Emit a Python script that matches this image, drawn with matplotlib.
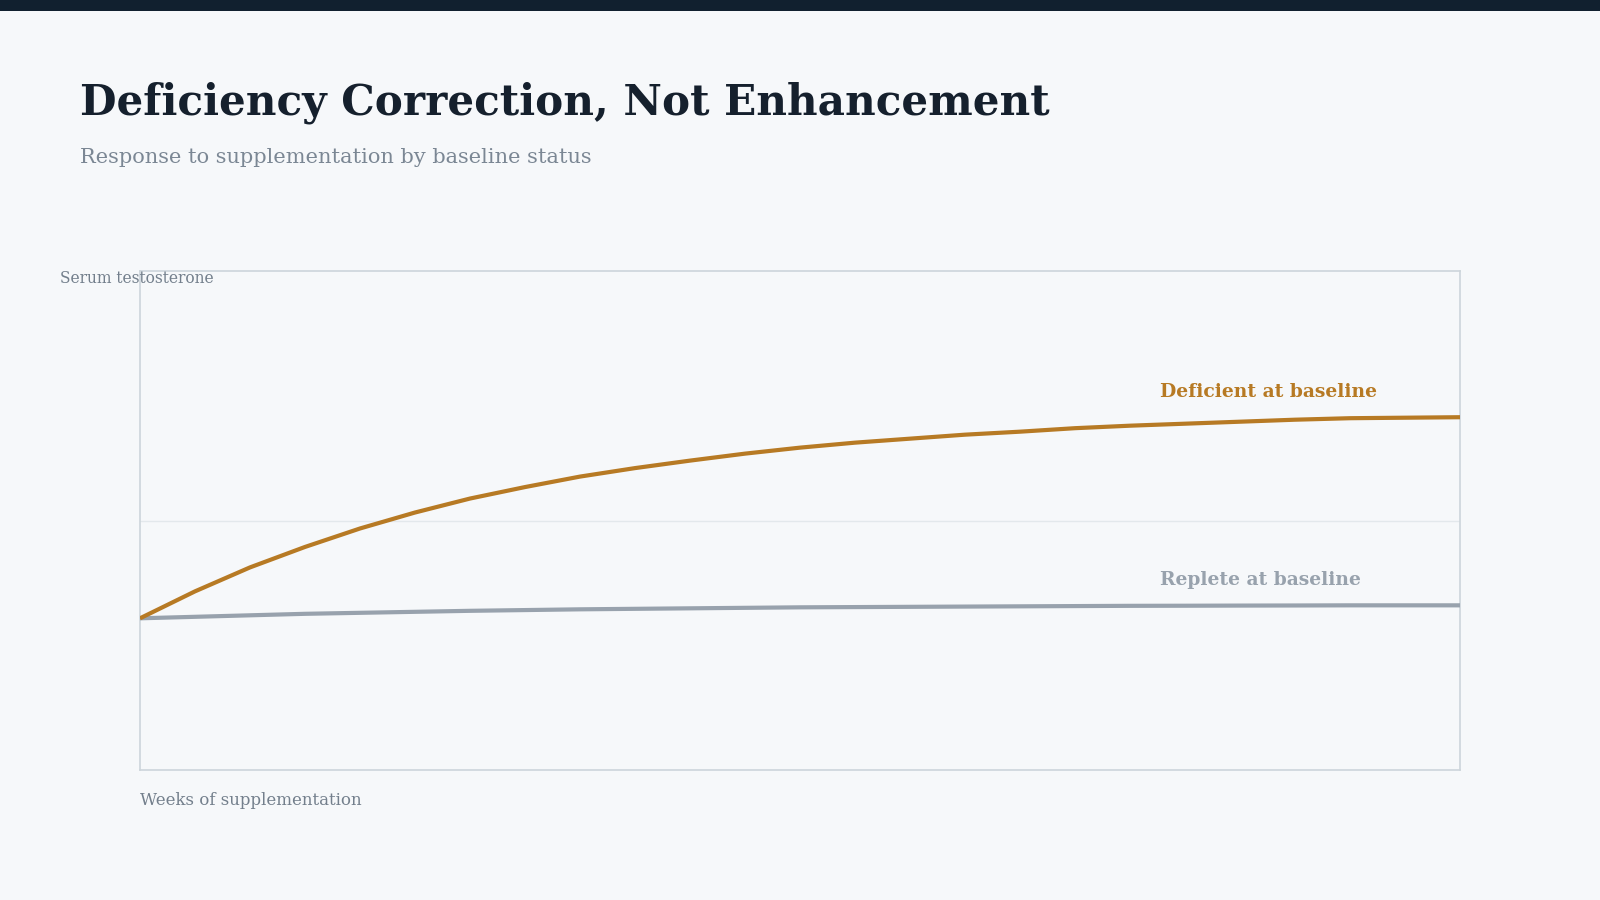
import matplotlib
matplotlib.use("AGG")
import matplotlib.pyplot as plt
from matplotlib.patches import Rectangle

# values (arbitrary serum level scale 0-100)
weeks = [0, 0.5, 1, 1.5, 2, 2.5, 3, 3.5, 4, 4.5, 5, 5.5, 6, 6.5, 7, 7.5, 8,
         8.5, 9, 9.5, 10, 10.5, 11, 11.5, 12]
deficient = [30.4, 35.8, 40.6, 44.7, 48.4, 51.6, 54.4, 56.7, 58.8, 60.5, 62.0,
             63.4, 64.6, 65.6, 66.4, 67.2, 67.8, 68.5, 69.0, 69.4, 69.8, 70.2,
             70.5, 70.6, 70.7]
replete = [30.4, 30.7, 31.0, 31.3, 31.5, 31.7, 31.9, 32.05, 32.2, 32.3, 32.4,
           32.5, 32.6, 32.65, 32.7, 32.75, 32.8, 32.85, 32.9, 32.92, 32.95,
           32.97, 33.0, 33.0, 33.0]

title = "Deficiency Correction, Not Enhancement"
subtitle = "Response to supplementation by baseline status"
y_label = "Serum testosterone"
x_label = "Weeks of supplementation"
series_labels = ["Deficient at baseline", "Replete at baseline"]

BG = "#f6f8fa"
NAVY = "#11202f"
ORANGE = "#b77a24"
GREY = "#98a2ad"
MUTED = "#737f8c"
SPINE = "#cdd5db"
SERIF = ["DejaVu Serif"]

W, H = 1600, 900
fig = plt.figure(figsize=(16, 9), dpi=100, facecolor=BG)

# dark strip along the top edge
fig.patches.append(Rectangle((0, 1 - 11 / H), 1, 11 / H, transform=fig.transFigure,
                             facecolor=NAVY, edgecolor="none"))

def ftext(x, y, s, **kw):
    fig.text(x / W, 1 - y / H, s, va="baseline", ha="left", family=SERIF, **kw)

ftext(80, 114, title, fontsize=30.3, fontweight="bold", color="#15202d")
ftext(80, 163, subtitle, fontsize=15.0, color="#7b8794")
ftext(60, 283, y_label, fontsize=11.2, color=MUTED)
ftext(140, 805, x_label, fontsize=12.0, color=MUTED)

ax = fig.add_axes([140 / W, 130 / H, 1320 / W, 499 / H])
ax.set_facecolor(BG)
ax.plot(weeks, replete, color=GREY, lw=3.0, solid_capstyle="butt",
        solid_joinstyle="round", zorder=3)
ax.plot(weeks, deficient, color=ORANGE, lw=3.0, solid_capstyle="butt",
        solid_joinstyle="round", zorder=4)

ax.set_xlim(0, 12)
ax.set_ylim(0, 100)
ax.set_xticks([])
ax.set_yticks([])
ax.axhline(50, color="#e3e8ec", lw=1.0, zorder=1)
for sp in ax.spines.values():
    sp.set_color(SPINE)
    sp.set_linewidth(1.2)

ax.text(9.27, 74.8, series_labels[0], color=ORANGE, fontsize=13.5, fontweight="bold",
        family=SERIF, va="baseline", ha="left")
ax.text(9.27, 37.1, series_labels[1], color=GREY, fontsize=13.5, fontweight="bold",
        family=SERIF, va="baseline", ha="left")

fig.savefig("out.png", dpi=100, facecolor=BG)
